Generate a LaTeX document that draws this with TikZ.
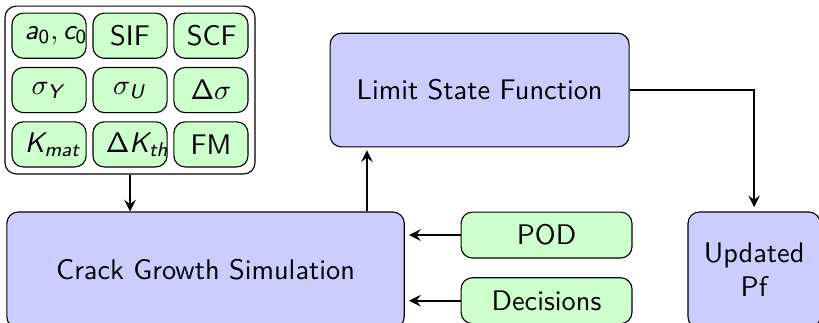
\documentclass[tikz,border=0pt]{standalone}
\usepackage{amsmath}
\usepackage{tikz}
\usetikzlibrary{matrix,arrows}
\renewcommand{\familydefault}{\sfdefault}
% sans serif letters and digits in math
\DeclareSymbolFont{sfletters}{OT1}{cmss}{m}{sl}
\DeclareSymbolFont{sfupright}{OT1}{cmss}{m}{n}
\DeclareMathSymbol{a}{\mathalpha}{sfletters}{`a}
\DeclareMathSymbol{c}{\mathalpha}{sfletters}{`c}
\DeclareMathSymbol{h}{\mathalpha}{sfletters}{`h}
\DeclareMathSymbol{m}{\mathalpha}{sfletters}{`m}
\DeclareMathSymbol{t}{\mathalpha}{sfletters}{`t}
\DeclareMathSymbol{K}{\mathalpha}{sfletters}{`K}
\DeclareMathSymbol{U}{\mathalpha}{sfletters}{`U}
\DeclareMathSymbol{Y}{\mathalpha}{sfletters}{`Y}
\DeclareMathSymbol{0}{\mathalpha}{sfupright}{`0}
\DeclareMathSymbol{\Delta}{\mathalpha}{sfupright}{"01}

\begin{document}
\begin{tikzpicture}[
  block/.style={draw, fill=blue!20, rounded corners, align=center},
  input/.style={draw, fill=green!20, rounded corners, minimum width=2.12cm, minimum height=0.57cm},
  line/.style={thick, -stealth}]
\clip (0,0) rectangle (10.16,-4);
\matrix[matrix of nodes, draw, rounded corners, inner sep=0.08cm, nodes={draw, fill=green!20, rounded corners, text width=0.6cm, align=center, inner xsep=1.6mm, inner ysep=1pt, minimum height=0.56cm, anchor=center}, column sep=0.07cm, row sep=0.1cm] (params) at (1.613,-1.117) {
 $a_0,c_0$ & SIF & SCF \\
 $\sigma_Y$ & $\sigma_U$ & $\Delta\sigma$ \\
 $K_{mat}$ & $\Delta K_{th}$ & FM \\
};
\node[block, minimum width=4.93cm, minimum height=1.44cm] (crack) at (2.55,-3.35) {Crack Growth Simulation};
\node[block, minimum width=3.71cm, minimum height=1.41cm] (lsf) at (5.95,-1.117) {Limit State Function};
\node[input] (pod) at (6.78,-2.916) {POD};
\node[input] (dec) at (6.78,-3.73) {Decisions};
\node[block, minimum width=1.64cm, minimum height=1.44cm] (pf) at (9.355,-3.35) {Updated\\Pf};
\coordinate (up) at ([xshift=-0.47cm]crack.north east);

\draw[line] (params) -- (params |- crack.north);
\draw[line, shorten >=1pt] (up) -- (up |- lsf.south);
\draw[line, shorten >=1.5pt] (lsf) -| (pf);
\draw[line, shorten >=1.5pt] (pod) -- (pod -| crack.east);
\draw[line, shorten >=1.5pt] (dec) -- (dec -| crack.east);
\end{tikzpicture}
\end{document}
